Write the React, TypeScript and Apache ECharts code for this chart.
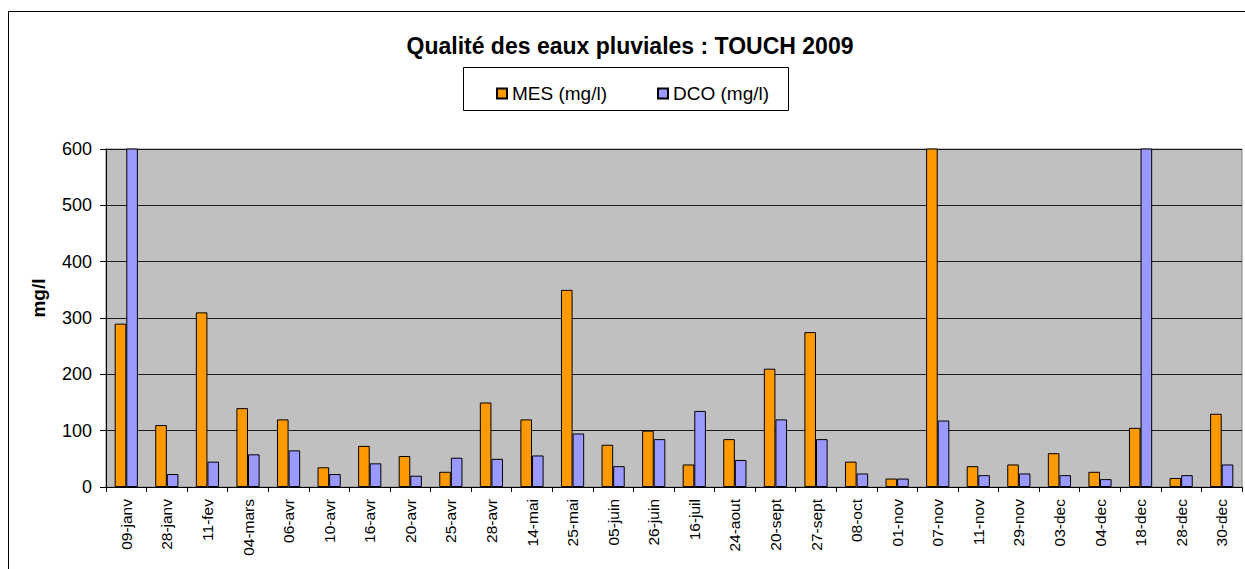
import React, { useEffect, useRef } from "react";
import * as echarts from "echarts";

const categories = [
  "09-janv", "28-janv", "11-fev", "04-mars", "06-avr", "10-avr", "16-avr",
  "20-avr", "25-avr", "28-avr", "14-mai", "25-mai", "05-juin", "26-juin",
  "16-juil", "24-aout", "20-sept", "27-sept", "08-oct", "01-nov", "07-nov",
  "11-nov", "29-nov", "03-dec", "04-dec", "18-dec", "28-dec", "30-dec",
];
const mesValues = [
  290, 110, 310, 140, 120, 35, 73, 55, 27, 150, 120, 350, 75, 100,
  40, 85, 210, 275, 45, 15, 900, 37, 40, 60, 27, 105, 16, 130,
];
const dcoValues = [
  900, 23, 45, 58, 65, 23, 42, 20, 52, 50, 56, 95, 37, 85,
  135, 48, 120, 85, 24, 15, 118, 21, 24, 21, 14, 900, 21, 40,
];
const yTicks = { min: 0, max: 600, interval: 100 };

const FONT = 'Arial, "Liberation Sans", sans-serif';

export default function App() {
  const ref = useRef<HTMLDivElement>(null);
  useEffect(() => {
    if (!ref.current) return;
    const chart = echarts.init(ref.current, null, { renderer: "svg" });
    chart.setOption({
      animation: false,
      backgroundColor: "#ffffff",
      textStyle: { fontFamily: FONT },
      grid: {
        left: 106,
        top: 149,
        right: 3,
        bottom: 82,
        show: true,
        backgroundColor: "#C0C0C0",
        borderColor: "#808080",
        borderWidth: 1,
      },
      legend: {
        left: 491,
        top: 79,
        itemWidth: 10,
        itemHeight: 10,
        itemGap: 50,
        icon: "rect",
        textStyle: { fontSize: 19, color: "#000", fontFamily: FONT },
        data: ["MES (mg/l)", "DCO (mg/l)"],
      },
      graphic: [
        {
          type: "rect",
          shape: { x: 8.5, y: 11.5, width: 1400, height: 700 },
          style: { fill: "none", stroke: "#000", lineWidth: 1 },
          silent: true,
          z: -10,
        },
        {
          type: "rect",
          shape: { x: 463.5, y: 67.5, width: 325, height: 43 },
          style: { fill: "none", stroke: "#000", lineWidth: 1 },
          silent: true,
        },
        {
          type: "text",
          x: 630,
          y: 46,
          style: {
            text: "Qualité des eaux pluviales : TOUCH 2009",
            fontFamily: FONT,
            fontSize: 23,
            fontWeight: "bold",
            fill: "#000",
            textAlign: "center",
            textVerticalAlign: "middle",
          },
        },
        {
          type: "text",
          x: 38,
          y: 298,
          rotation: Math.PI / 2,
          style: {
            text: "mg/l",
            fontFamily: FONT,
            fontSize: 19,
            fontWeight: "bold",
            fill: "#000",
            textAlign: "center",
            textVerticalAlign: "middle",
          },
        },
      ],
      xAxis: {
        type: "category",
        data: categories,
        axisLine: { lineStyle: { color: "#000", width: 1 } },
        axisTick: { show: true, length: 5, lineStyle: { color: "#000" } },
        axisLabel: {
          rotate: 90,
          margin: 12,
          fontSize: 15.5,
          color: "#000",
          fontFamily: FONT,
          interval: 0,
        },
      },
      yAxis: {
        type: "value",
        min: yTicks.min,
        max: yTicks.max,
        interval: yTicks.interval,
        axisLine: { show: true, lineStyle: { color: "#000", width: 1 } },
        axisTick: { show: true, length: 6, lineStyle: { color: "#000" } },
        axisLabel: { margin: 14, fontSize: 18, color: "#000", fontFamily: FONT },
        splitLine: { show: true, lineStyle: { color: "#1a1a1a", width: 1 } },
      },
      series: [
        {
          name: "MES (mg/l)",
          type: "bar",
          data: mesValues,
          barWidth: 11.6,
          barGap: "0%",
          clip: true,
          itemStyle: { color: "#FF9900", borderColor: "#000", borderWidth: 1 },
        },
        {
          name: "DCO (mg/l)",
          type: "bar",
          data: dcoValues,
          barWidth: 11.6,
          barGap: "0%",
          clip: true,
          itemStyle: { color: "#9999FF", borderColor: "#000", borderWidth: 1 },
        },
      ],
    });
    return () => chart.dispose();
  }, []);
  return (
    <div
      ref={ref}
      style={{ position: "absolute", left: 0, top: 0, width: 1245, height: 569 }}
    />
  );
}
